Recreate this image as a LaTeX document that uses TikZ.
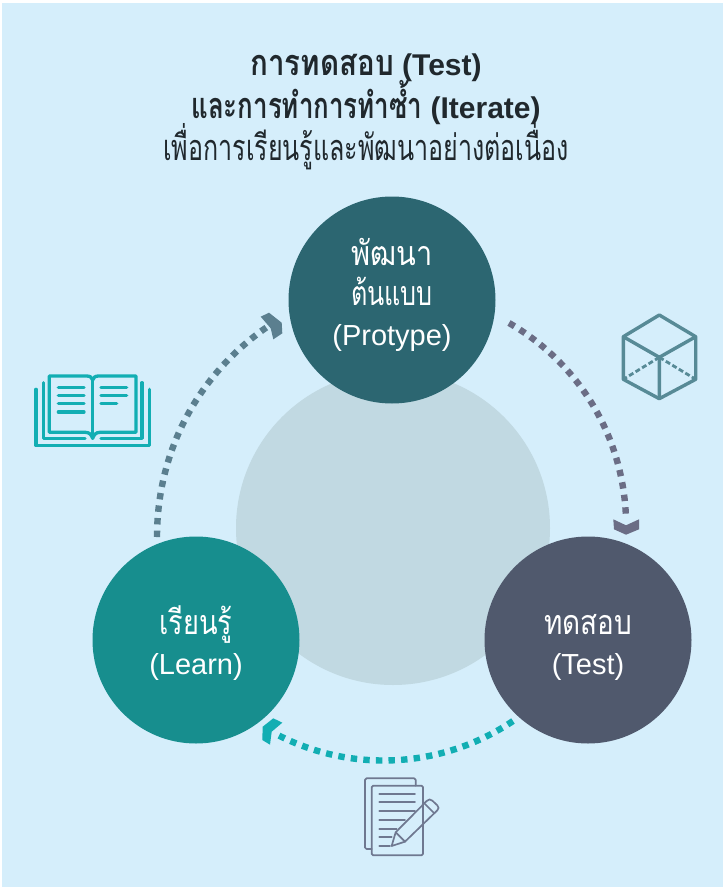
\documentclass[tikz,border=0pt]{standalone}
\usepackage{fontspec}
\setmainfont{Liberation Sans}
\newfontfamily\thaiA[Script=Thai,FakeStretch=0.85]{Loma}
\newfontfamily\thaiB[Script=Thai,FakeStretch=0.74]{Loma}
\newfontfamily\thaiC[Script=Thai,FakeStretch=0.82]{Loma}
\newfontfamily\thaiD[Script=Thai,FakeStretch=0.80]{Loma}
\newfontfamily\thaiE[Script=Thai,FakeStretch=0.72]{Loma}
\newfontfamily\thaiF[Script=Thai,FakeStretch=0.695]{Loma}
\newcommand{\stagethai}{\fontsize{34}{41}\selectfont}
\newcommand{\titlethai}{\fontsize{36}{40}\selectfont}
\definecolor{bgblue}{HTML}{D5EEFB}
\definecolor{hubgrey}{HTML}{C1D9E2}
\definecolor{protoC}{HTML}{2C6671}
\definecolor{testC}{HTML}{50596D}
\definecolor{learnC}{HTML}{178E8E}
\definecolor{dotA}{HTML}{5B7F8F}
\definecolor{dotB}{HTML}{6B6D85}
\definecolor{dotC}{HTML}{12AEB3}
\definecolor{cubeC}{HTML}{578A96}
\definecolor{docC}{HTML}{6F7890}
\definecolor{titleC}{HTML}{20282D}
\tikzset{
  stage/.style={circle,minimum size=207pt,inner sep=0pt,text=white,align=center,font=\fontsize{29}{40}\selectfont},
  hub/.style={circle,minimum size=314pt,inner sep=0pt,fill=hubgrey},
  ttl/.style={anchor=base,inner sep=0pt,text=titleC},
  dotpath/.style={line width=6.4pt,dash pattern=on 6.4pt off 6.2pt},
  bookline/.style={draw=dotC,line width=3.3pt,line cap=round,line join=round},
  cubeline/.style={draw=cubeC,line width=3.4pt,line join=round},
  docline/.style={draw=docC,line width=1.7pt,line cap=round,line join=round},
}
\begin{document}
\begin{tikzpicture}[x=1pt,y=-1pt]
\useasboundingbox (0,0) rectangle (725,889);
\fill[white] (0,0) rectangle (725,889);
\fill[bgblue] (2,3) rectangle (723,887);
% hub and stages
\node[hub] (hub) at (393,528) {};
\node[stage,fill=protoC] (proto) at (392,300) {{\stagethai\thaiA พัฒนา}\\{\stagethai\thaiB ต้นแบบ}\\(Protype)\\[-24pt]};
\node[stage,fill=learnC] (learn) at (196,640) {\mbox{}\\[-5pt]{\stagethai\thaiD เรียนรู้}\\(Learn)};
\node[stage,fill=testC] (test) at (588,640) {\mbox{}\\[-5pt]{\stagethai\thaiC ทดสอบ}\\(Test)};
% title
\node[ttl,font=\fontsize{30}{36}\selectfont\bfseries] (t1) at (366,75) {{\titlethai\thaiC การทดสอบ} (Test)};
\node[ttl,font=\fontsize{30}{36}\selectfont\bfseries] (t2) at (366,118) {{\titlethai\thaiE และการทำการทำซ้ำ} (Iterate)};
\node[ttl,font=\fontsize{30}{36}\selectfont] (t3) at (366,160) {{\titlethai\thaiF เพื่อการเรียนรู้และพัฒนาอย่างต่อเนื่อง}};
% connectors
\coordinate (a1) at (157,537);
\coordinate (a2) at (270,325);
\coordinate (b1) at (509,323);
\coordinate (b2) at (626,518);
\coordinate (c1) at (513,721);
\coordinate (c2) at (274,733);
\draw[dotpath,draw=dotA] (a1) to[bend left=28,looseness=.92] (a2);
\draw[dotpath,draw=dotB] (b1) to[bend left=29,looseness=.92] (b2);
\draw[dotpath,draw=dotC] (c1) to[bend left=31,looseness=.92] (c2);
\fill[dotA] (260.7,316.7) -- (269,312.7) -- (281.7,322.7) -- (282.3,333.3) -- (273.3,339.3) -- (270.7,328.3) -- cycle;
\fill[dotB] (613.3,519.3) -- (626,525.3) -- (639,519.3) -- (639,529.3) -- (626,534.7) -- (614,529.3) -- cycle;
\fill[dotC] (282.3,722.7) -- (273.3,718.3) -- (262.7,726.7) -- (262.3,740) -- (270,744.7) -- (271.7,731.7) -- cycle;
% cube
\draw[cubeline] (659.3,315) -- (695.7,336.7) -- (695.7,379.3) -- (659.3,398.7) -- (623.3,379.3) -- (623.3,336.7) -- cycle;
\draw[cubeline] (623.3,336.7) -- (659.3,357.3) -- (695.7,336.7) (659.3,357.3) -- (659.3,398.7);
\draw[cubeline,line width=2.8pt,dash pattern=on 5pt off 2.6pt] (659.3,357.3) -- (623.3,379.3) (659.3,357.3) -- (695.7,379.3);
% book
\begin{scope}[shift={(20,300)},x=.3333pt,y=-.3333pt]
\draw[bookline] (88,228) -- (200,228) .. controls (210,228) and (216,232) .. (218,240) .. controls (220,232) and (226,228) .. (236,228) -- (348,228) -- (348,397) -- (240,397) .. controls (228,397) and (222,404) .. (218,415) .. controls (214,404) and (208,397) .. (196,397) -- (88,397) -- cycle;
\draw[bookline] (218,240) -- (218,415);
\draw[bookline] (115,262) -- (192,262) (115,287) -- (192,287) (115,311) -- (192,311) (115,336) -- (192,336);
\draw[bookline] (243,262) -- (320,262) (243,287) -- (320,287) (243,311) -- (290,311);
\draw[bookline] (70,248) -- (70,415) -- (195,415) (366,248) -- (366,415) -- (243,415);
\draw[bookline] (48,268) -- (48,437) -- (388,437) -- (388,268);
\end{scope}
% document and pencil
\begin{scope}[shift={(250,700)},x=.3333pt,y=-.3333pt]
\draw[docline,rounded corners=1.5pt] (365,447) -- (345,447) -- (345,235) -- (497,235) -- (497,257);
\draw[docline,rounded corners=1.5pt] (365,257) rectangle (519,466);
\draw[docline] (388,281) -- (495,281) (388,307) -- (495,307) (388,333) -- (495,333) (388,359) -- (465,359) (388,386) -- (440,386) (388,412) -- (425,412) (388,438) -- (420,438);
\draw[docline] (425,438) -- (437,397) -- (530,303) .. controls (536,297) and (542,297) .. (547,302) -- (562,316) .. controls (567,321) and (567,326) .. (562,331) -- (465,425) -- cycle;
\draw[docline] (437,397) -- (465,425) (525,312) -- (553,340);
\end{scope}
\end{tikzpicture}
\end{document}
